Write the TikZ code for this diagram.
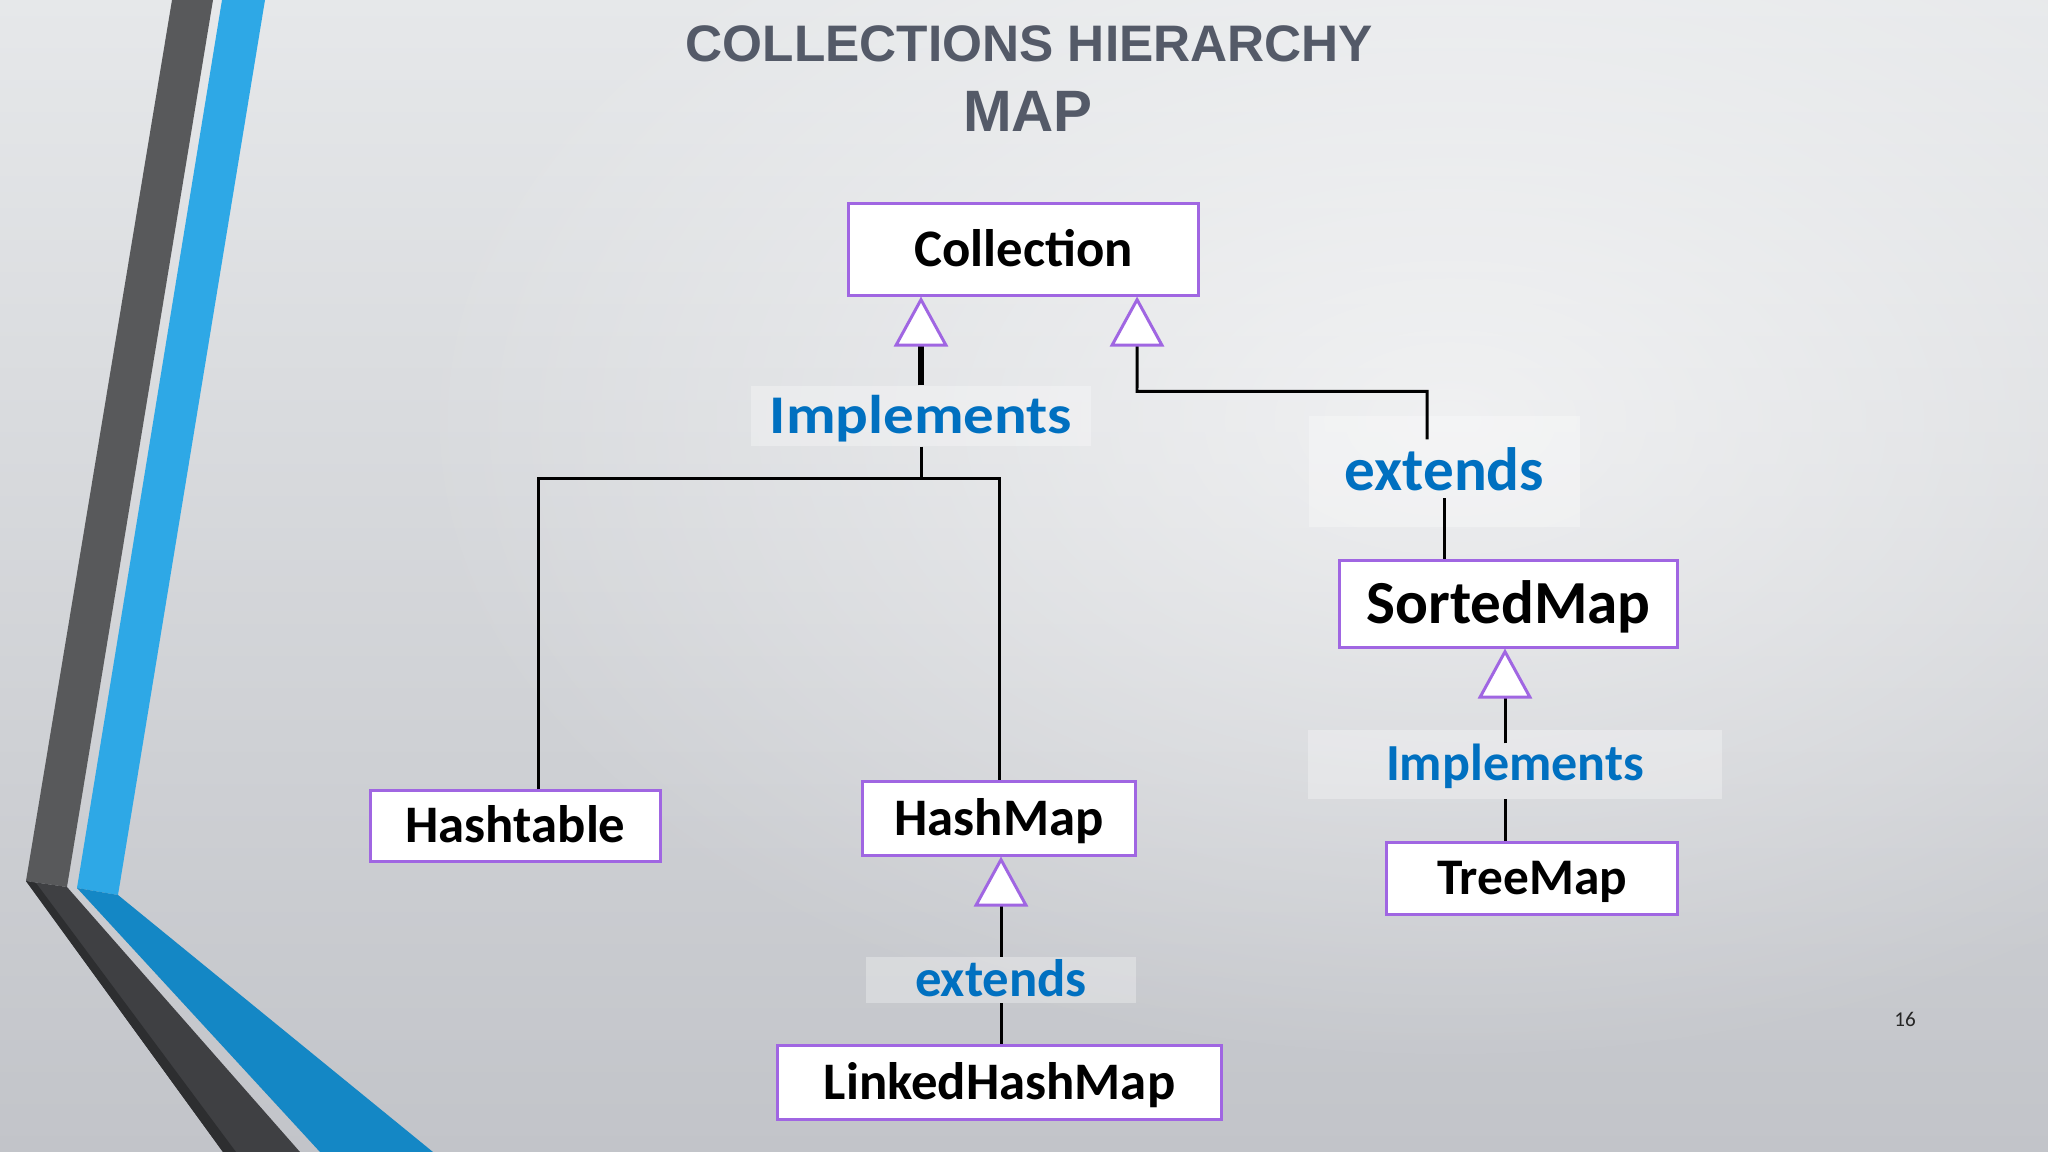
\documentclass[tikz,border=0pt]{standalone}
\usepackage{fontspec}
\setmainfont{Carlito}
\newfontfamily\headfont{Liberation Sans}
\newfontfamily\widefont[FakeStretch=1.12]{Carlito}
\usetikzlibrary{arrows.meta, fadings}

\definecolor{boxpurple}{RGB}{160,102,226}
\definecolor{relblue}{RGB}{0,112,192}
\definecolor{headgray}{RGB}{84,90,104}
\definecolor{bgtop}{RGB}{230,232,234}
\definecolor{bgmid}{RGB}{220,222,226}
\definecolor{bgbot}{RGB}{194,196,201}
\definecolor{darkup}{RGB}{88,89,91}
\definecolor{darklow}{RGB}{63,64,67}
\definecolor{darkedge}{RGB}{45,46,48}
\definecolor{blueup}{RGB}{46,168,230}
\definecolor{bluelow}{RGB}{20,135,197}

\tikzfading[name=glow, inner color=transparent!0, outer color=transparent!100]

\begin{document}
\begin{tikzpicture}[x=0.01cm, y=-0.01cm,
  heading/.style={font=\headfont\bfseries\fontsize{#1}{#1}\selectfont, text=headgray,
    text height={0.716*#1pt}, text depth=0pt, inner sep=0},
  box/.style={draw=boxpurple, line width=0.85pt, fill=white, inner sep=0,
    font=\bfseries\fontsize{#1}{#1}\selectfont, text height={0.632*#1pt}, text depth=0pt},
  box/.default=15,
  rel/.style={text=relblue, font=\bfseries\fontsize{#1}{#1}\selectfont,
    text height={0.632*#1pt}, text depth=0pt, inner sep=0,
    fill=white, fill opacity=0.3, text opacity=1},
  link/.style={draw=black, line width=0.85pt},
  gen/.style={-{Triangle[length=0.5cm, width=0.54cm, fill=white, color=boxpurple, line width=0.85pt]}}]

\useasboundingbox (0,0) rectangle (2048,1152);
\shade[top color=bgtop, middle color=bgmid, bottom color=bgbot] (0,0) rectangle (2048,1152);
\begin{scope}
\clip (0,0) rectangle (2048,1152);
\fill[white, fill opacity=0.6, path fading=glow] (1450,420) ellipse [x radius=1050, y radius=650];
\end{scope}

\fill[darkup] (172,0) -- (213,0) -- (67,887) -- (26,881) -- cycle;
\fill[blueup] (222,0) -- (265,0) -- (118,895) -- (77,888) -- cycle;
\fill[darklow] (26,881) -- (67,887) -- (300,1152) -- (223,1152) -- cycle;
\fill[darkedge] (26,881) -- (36,883) -- (236,1152) -- (223,1152) -- cycle;
\fill[bluelow] (77,888) -- (118,895) -- (433,1152) -- (320,1152) -- cycle;

\node[heading=14.6] (head) at (1029.5,43.5) {COLLECTIONS HIERARCHY};
\node[heading=16.6] (subhead) at (1028,110.5) {MAP};

\node[box, minimum width=3.49cm, minimum height=0.91cm] (Collection) at (1023.5,249.5) {Collection};
\node[box, minimum width=2.89cm, minimum height=0.70cm] (Hashtable) at (515.5,826) {Hashtable};
\node[box, minimum width=2.72cm, minimum height=0.73cm] (HashMap) at (999,818.5) {HashMap};
\node[box, minimum width=4.43cm, minimum height=0.73cm] (LinkedHashMap) at (999.5,1082.5) {LinkedHashMap};
\node[box=17.4, minimum width=3.37cm, minimum height=0.86cm] (SortedMap) at (1508.5,604) {SortedMap};
\node[box=14.6, minimum width=2.90cm, minimum height=0.71cm] (TreeMap) at (1532,878.5) {TreeMap};

\node[rel=15.5, minimum width=3.39cm, minimum height=0.60cm] (implA) at (921,416) {\widefont Implements};
\node[rel=17.4, minimum width=2.71cm, minimum height=1.11cm] (extA) at (1444.5,471.5) {extends};
\node[rel=14.8, minimum width=4.14cm, minimum height=0.68cm] (implB) at (1515,764.5) {Implements};
\node[rel=15, minimum width=2.70cm, minimum height=0.45cm] (extB) at (1001,980) {extends};

\node[font=\fontsize{6}{7}\selectfont, text=black!85] (pagenum) at (1905,1019) {16};

\coordinate (extAbot) at ([yshift=-0.265cm]extA.center);
\coordinate (implBtop) at ([xshift=-0.1cm, yshift=0.21cm]implB.center);

\draw[link, line width=1.5pt, gen] (implA.north) -- (implA.north |- Collection.south);
\draw[link] (implA.south) -- ++(0,32) coordinate (implAbar);
\draw[link] ([xshift=0.225cm]Hashtable.north) |- (HashMap.north |- implAbar) -- (HashMap.north);

\draw[link, gen] ([xshift=-0.175cm, yshift=-0.24cm]extA.north) |- ++(-290,-48) -- ([xshift=1.135cm]Collection.south);
\draw[link] (extAbot) -- (extAbot |- SortedMap.north);

\draw[link, gen] (implBtop) -- (implBtop |- SortedMap.south);
\draw[link] (implB.south -| implBtop) -- (implBtop |- TreeMap.north);

\draw[link, gen] (extB.north) -- (extB.north |- HashMap.south);
\draw[link] (extB.south) -- (extB.south |- LinkedHashMap.north);

\end{tikzpicture}
\end{document}
